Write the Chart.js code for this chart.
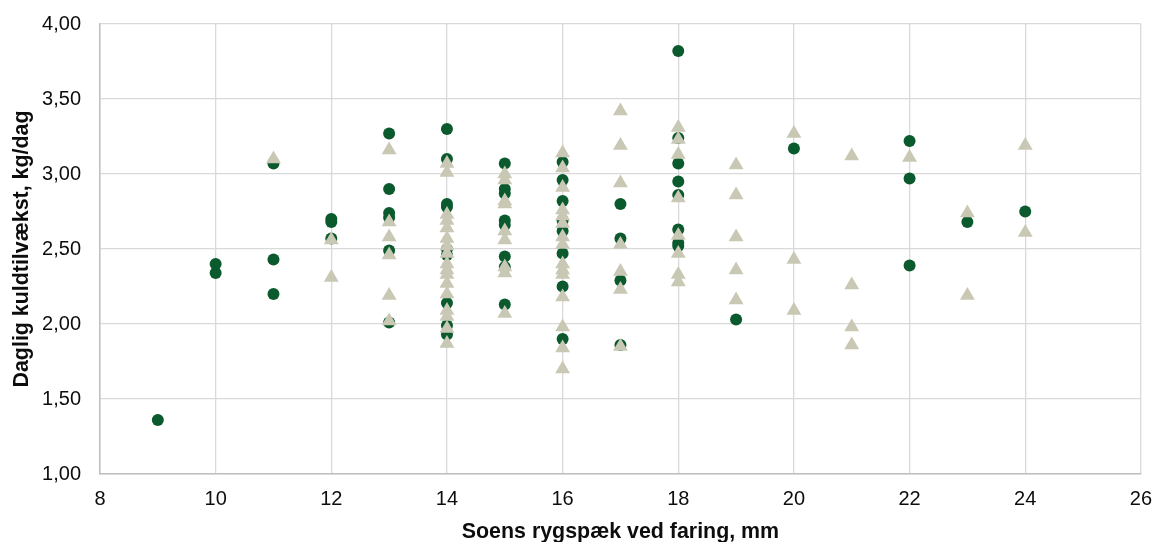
<!DOCTYPE html>
<html>
<head>
<meta charset="utf-8">
<script src="https://cdn.jsdelivr.net/npm/chart.js@4"></script>
<style>
  html, body { margin: 0; padding: 0; background: #ffffff; }
  #wrap { width: 1156px; height: 542px; position: relative; }
</style>
</head>
<body>
<div id="wrap"><canvas id="c" width="1156" height="542"></canvas></div>
<script>
// Data
const xTitle = "Soens rygspæk ved faring, mm";
const yTitle = "Daglig kuldtilvækst, kg/dag";

const circleX = [9, 10,10, 11,11,11, 12,12,12,
  13,13,13,13,13,13,
  14,14,14,14,14,14,14,14,14,
  15,15,15,15,15,15,15,15,
  16,16,16,16,16,16,16,16,
  17,17,17,17,
  18,18,18,18,18,18,18,18,
  19, 20, 22,22,22, 23, 24];
const circleY = [1.36, 2.40,2.34, 3.07,2.43,2.20, 2.70,2.68,2.57,
  3.27,2.90,2.74,2.71,2.49,2.01,
  3.30,3.10,2.80,2.78,2.50,2.46,2.14,1.99,1.93,
  3.07,2.90,2.87,2.69,2.66,2.45,2.38,2.13,
  3.08,2.96,2.82,2.69,2.62,2.47,2.25,1.90,
  2.80,2.57,2.29,1.86,
  3.82,3.24,3.07,2.95,2.86,2.63,2.54,2.52,
  2.03, 3.17, 3.22,2.97,2.39, 2.68, 2.75];

const triangleX = [11, 12,12,
  13,13,13,13,13,13,
  14,14,14,14,14,14,14,14,14,14,14,14,14,14,14,14,14,
  15,15,15,15,15,15,15,15,15,
  16,16,16,16,16,16,16,16,16,16,16,16,16,16,16,
  17,17,17,17,17,17,17,
  18,18,18,18,18,18,18,18,
  19,19,19,19,19,
  20,20,20,
  21,21,21,21,
  22, 23,23, 24,24];
const triangleY = [3.10, 2.56,2.31,
  3.16,2.68,2.58,2.46,2.19,2.02,
  3.07,3.01,2.73,2.69,2.64,2.57,2.52,2.47,2.40,2.36,2.33,2.27,2.20,2.09,2.05,1.97,1.87,
  3.00,2.96,2.82,2.80,2.62,2.56,2.38,2.34,2.07,
  3.14,3.04,2.91,2.76,2.72,2.67,2.58,2.53,2.40,2.36,2.33,2.18,1.98,1.84,1.70,
  3.42,3.19,2.94,2.53,2.35,2.23,1.85,
  3.31,3.23,3.13,2.84,2.59,2.47,2.33,2.28,
  3.06,2.86,2.58,2.36,2.16,
  3.27,2.43,2.09,
  3.12,2.26,1.98,1.86,
  3.11, 2.74,2.19, 3.19,2.61];

const xMin = 8, xMax = 26, xStep = 2;
const yMin = 1, yMax = 4, yStep = 0.5;

function pts(xs, ys) { return xs.map((x, i) => ({ x: x, y: ys[i] })); }

const FONT = "'Liberation Sans', Arial, sans-serif";

new Chart(document.getElementById('c'), {
  type: 'scatter',
  data: {
    datasets: [
      {
        label: 'Trekant',
        data: pts(triangleX, triangleY),
        pointStyle: 'triangle',
        pointRadius: 8.6,
        pointHoverRadius: 8.6,
        backgroundColor: '#c9c8b4',
        borderColor: '#c9c8b4',
        borderWidth: 0,
        order: 0
      },
      {
        label: 'Cirkel',
        data: pts(circleX, circleY),
        pointStyle: 'circle',
        pointRadius: 6,
        pointHoverRadius: 6,
        backgroundColor: '#0b5a2d',
        borderColor: '#0b5a2d',
        borderWidth: 0,
        order: 1
      }
    ]
  },
  options: {
    responsive: false,
    animation: false,
    events: [],
    layout: { padding: { top: 0, right: 0, left: 0, bottom: 0 } },
    plugins: { legend: { display: false }, tooltip: { enabled: false } },
    scales: {
      x: {
        type: 'linear',
        min: xMin, max: xMax,
        afterFit: (s) => { s.height = 68; },
        ticks: {
          stepSize: xStep,
          color: '#0d0d0d',
          font: { family: FONT, size: 20, lineHeight: 2.1 },
          padding: 4,
          maxRotation: 0
        },
        grid: { color: '#d9d9d9', lineWidth: 1.3, drawTicks: false },
        border: { color: '#bfbfbf', width: 1.5 },
        title: {
          display: true,
          text: xTitle,
          color: '#0d0d0d',
          font: { family: FONT, size: 21.4, weight: 'bold', lineHeight: 0.9 },
          padding: { top: 0, bottom: 0 }
        }
      },
      y: {
        type: 'linear',
        min: yMin, max: yMax,
        afterFit: (s) => { s.width = 100; },
        ticks: {
          stepSize: yStep,
          color: '#0d0d0d',
          font: { family: FONT, size: 20, lineHeight: 0.5 },
          padding: 19,
          callback: (v) => v.toFixed(2).replace('.', ',')
        },
        grid: { color: '#d9d9d9', lineWidth: 1.3, drawTicks: false },
        border: { color: '#bfbfbf', width: 1.5 },
        title: {
          display: true,
          text: yTitle,
          color: '#0d0d0d',
          font: { family: FONT, size: 21.4, weight: 'bold' },
          padding: { top: 9, bottom: 0 }
        }
      }
    }
  }
});
</script>
</body>
</html>
